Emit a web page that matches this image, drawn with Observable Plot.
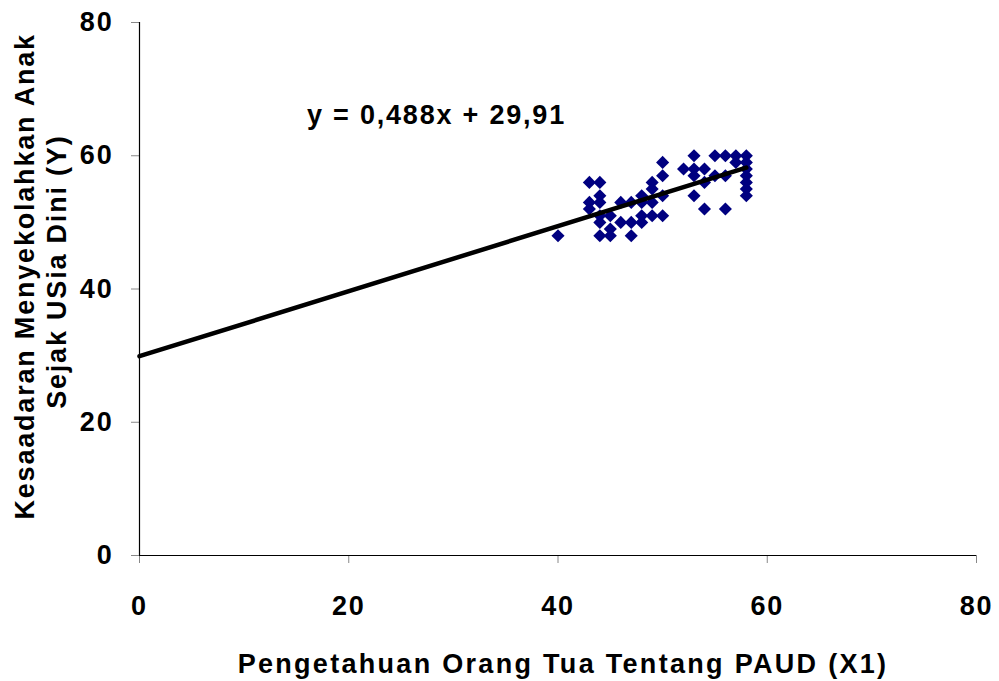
<!DOCTYPE html>
<html><head><meta charset="utf-8">
<script src="https://cdn.jsdelivr.net/npm/d3@7"></script>
<script src="https://cdn.jsdelivr.net/npm/@observablehq/plot@0.6"></script>
<style>
body{margin:0;background:#fff;}
svg{font-family:"Liberation Sans",Arial,sans-serif;}
svg text{letter-spacing:1.8px;}
</style></head>
<body><div id="chart"></div>
<script>
const xValues = [40, 43,43,43, 44,44,44,44,44,44, 45,45,45, 46,46, 47,47,47, 48,48,48,48, 49,49,49,49, 50,50,50,50, 52, 53,53,53,53, 54,54,54, 55,55, 56,56,56, 57,57, 58,58,58,58,58,58,58];
const yValues = [48, 56,53,52, 56,54,53,51,50,48, 51,49,48, 53,50, 53,50,48, 54,53,51,50, 56,55,53,51, 59,57,54,51, 58, 60,58,57,54, 58,56,52, 60,57, 60,57,52, 60,59, 60,59,58,57,56,55,54];
const slope = 0.488, intercept = 29.91;
const trendRange = [0, 58];
const xTicks = [0, 20, 40, 60, 80];
const yTicks = [0, 20, 40, 60, 80];
const equation = "y = 0,488x + 29,91";
const xLabel = "Pengetahuan Orang Tua Tentang PAUD (X1)";
const yLabel1 = "Kesaadaran Menyekolahkan Anak";
const yLabel2 = "Sejak USia Dini (Y)";

const points = xValues.map((x, i) => ({x, y: yValues[i]}));
const trend = trendRange.map(x => ({x, y: slope * x + intercept}));
const fs = 27;

const chart = Plot.plot({
  width: 999, height: 681,
  marginLeft: 139, marginRight: 23, marginTop: 22, marginBottom: 126,
  x: {domain: [0, 80]},
  y: {domain: [0, 80]},
  marks: [
    Plot.axisX({ticks: xTicks, tickSize: 8, tickPadding: 32, stroke: "#888", fontSize: fs, fontWeight: "bold", fill: "#000", label: null}),
    Plot.axisY({ticks: yTicks, tickSize: 8, tickPadding: 18, stroke: "#888", fontSize: fs, fontWeight: "bold", fill: "#000", label: null}),
    Plot.ruleX([0], {stroke: "#000", strokeWidth: 1.2}),
    Plot.ruleY([0], {stroke: "#000", strokeWidth: 1.2}),
    Plot.dot(points, {x: "x", y: "y", symbol: "diamond2", r: 5.9, fill: "#000080", stroke: "none"}),
    Plot.line(trend, {x: "x", y: "y", stroke: "#000", strokeWidth: 4.5}),
    Plot.text([equation], {x: 16, y: 66, text: d => d, textAnchor: "start", fontSize: fs, fontWeight: "bold", fill: "#000"}),
    Plot.text([xLabel], {frameAnchor: "bottom", dx: 5, dy: 117, text: d => d, fontSize: fs, fontWeight: "bold", fill: "#000"}),
    Plot.text([yLabel1], {x: -10.92, y: 41.9, rotate: -90, text: d => d, fontSize: fs, fontWeight: "bold", fill: "#000"}),
    Plot.text([yLabel2], {x: -7.85, y: 42.6, rotate: -90, text: d => d, fontSize: fs, fontWeight: "bold", fill: "#000"})
  ]
});
d3.select(chart).selectAll("text").each(function() {
  if (this.textContent === xLabel) this.style.letterSpacing = "2.3px";
});
document.getElementById("chart").appendChild(chart);
</script></body></html>
